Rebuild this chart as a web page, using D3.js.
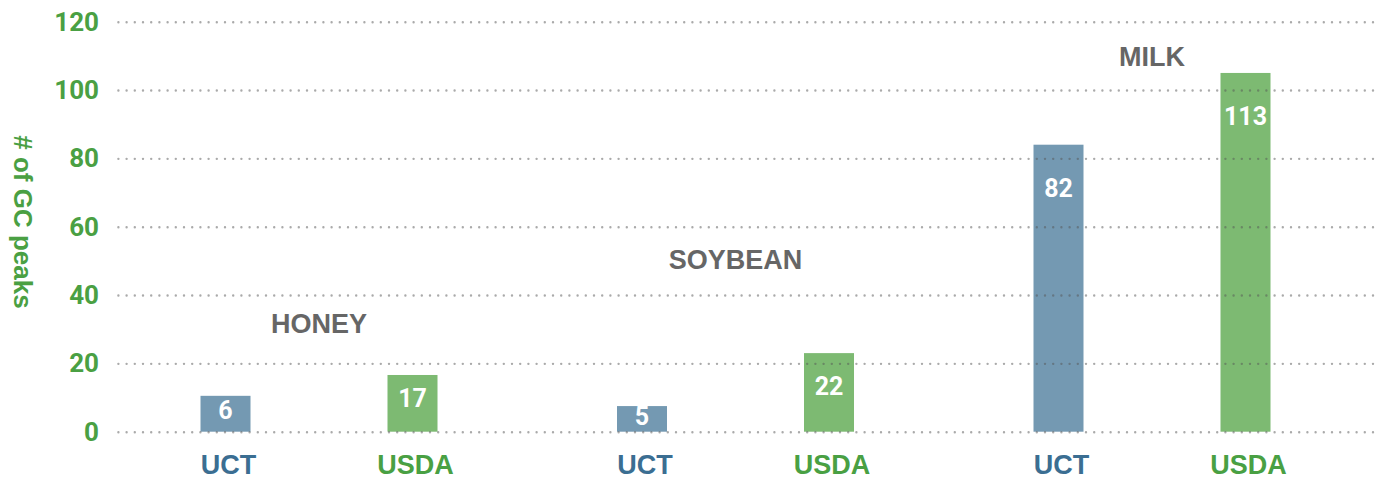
<!DOCTYPE html>
<html>
<head>
<meta charset="utf-8">
<script src="https://cdn.jsdelivr.net/npm/d3@7"></script>
<style>
  body { margin: 0; background: #fff; }
  svg { font-family: "Liberation Sans", Arial, sans-serif; font-weight: bold; }
</style>
</head>
<body>
<svg width="1384" height="480"></svg>
<script>
// data
var groups = ["HONEY", "SOYBEAN", "MILK"];
var sources = ["UCT", "USDA"];
var uctHeights = [10.5, 7.5, 84];
var usdaHeights = [16.6, 23, 105];
var uctLabels = ["6", "5", "82"];
var usdaLabels = ["17", "22", "113"];
var groupLabelLevel = [29, 47.6, 107];
var yTicks = [0, 20, 40, 60, 80, 100, 120];

var colors = { UCT: "#7499b2", USDA: "#7dba72" };
var textColors = { UCT: "#3b6e92", USDA: "#49a043" };

var svg = d3.select("svg"),
  width = +svg.attr("width"),
  height = +svg.attr("height");

var bars = [];
groups.forEach(function(g, i) {
  bars.push({ group: g, source: "UCT", value: uctHeights[i], label: uctLabels[i] });
  bars.push({ group: g, source: "USDA", value: usdaHeights[i], label: usdaLabels[i] });
});

var y = d3.scaleLinear()
  .domain([0, 120])
  .range([431.7, 21.7]);

var x0 = d3.scaleBand()
  .domain(groups)
  .range([110.75, 1360.25]);

var x1 = d3.scalePoint()
  .domain(sources)
  .range([x0.bandwidth() / 2 - 93.5, x0.bandwidth() / 2 + 93.5]);

var barW = 50;

function cx(d) {
  return x0(d.group) + x1(d.source);
}

// bars
svg.append("g")
  .selectAll("rect")
  .data(bars)
  .enter().append("rect")
  .attr("x", function(d) { return cx(d) - barW / 2; })
  .attr("y", function(d) { return y(d.value); })
  .attr("width", barW)
  .attr("height", function(d) { return y(0) - y(d.value); })
  .attr("fill", function(d) { return colors[d.source]; });

// grid + tick labels (drawn over the bars)
var axis = svg.append("g")
  .attr("transform", "translate(1373,0)")
  .call(d3.axisLeft(y).tickValues(yTicks).tickSize(1256).tickPadding(18));

axis.select(".domain").remove();
axis.selectAll(".tick line")
  .attr("stroke", "#555")
  .attr("stroke-opacity", 0.5)
  .attr("stroke-width", 2.4)
  .attr("stroke-linecap", "round")
  .attr("stroke-dasharray", "0,8.2");
axis.selectAll(".tick text")
  .attr("fill", "#4aa043")
  .style("font-size", "26px")
  .style("font-family", "Roboto, sans-serif")
  .style("font-weight", "bold");

// values inside bars
svg.append("g")
  .selectAll("text")
  .data(bars)
  .enter().append("text")
  .attr("x", function(d) { return cx(d); })
  .attr("y", function(d) {
    var h = y(0) - y(d.value);
    return y(d.value) + Math.min(h * 0.42, 44);
  })
  .attr("text-anchor", "middle")
  .attr("dominant-baseline", "central")
  .attr("fill", "#fff")
  .style("font-family", "Roboto, sans-serif")
  .style("font-size", "25px")
  .text(function(d) { return d.label; });

// source labels under bars
svg.append("g")
  .selectAll("text")
  .data(bars)
  .enter().append("text")
  .attr("x", function(d) { return cx(d) + 3; })
  .attr("y", 474)
  .attr("text-anchor", "middle")
  .attr("fill", function(d) { return textColors[d.source]; })
  .style("font-size", "27px")
  .text(function(d) { return d.source; });

// group names
svg.append("g")
  .selectAll("text")
  .data(groups)
  .enter().append("text")
  .attr("x", function(d) { return x0(d) + x0.bandwidth() / 2; })
  .attr("y", function(d, i) { return y(groupLabelLevel[i]); })
  .attr("text-anchor", "middle")
  .attr("fill", "#666")
  .style("font-size", "27px")
  .text(function(d) { return d; });

// y axis title
svg.append("text")
  .attr("transform", "translate(23,222) rotate(90)")
  .attr("text-anchor", "middle")
  .attr("dominant-baseline", "central")
  .attr("fill", "#4aa043")
  .style("font-size", "26px")
  .text("# of GC peaks");
</script>
</body>
</html>
